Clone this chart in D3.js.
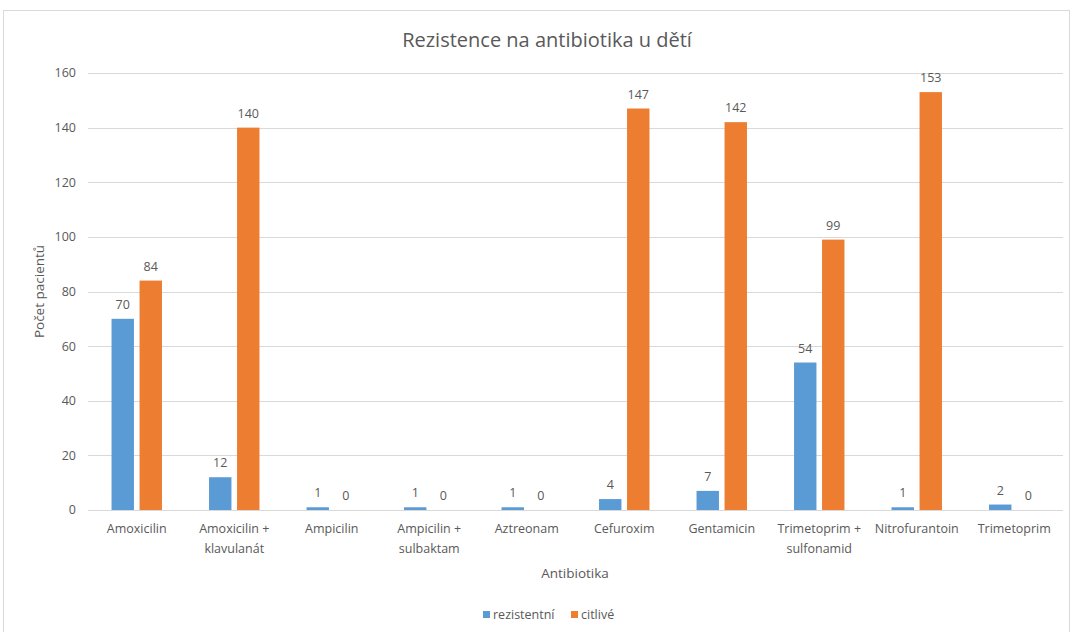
<!DOCTYPE html>
<html>
<head>
<meta charset="utf-8">
<script src="https://cdn.jsdelivr.net/npm/d3@7"></script>
<style>
body { margin: 0; background: #fff; }
svg text { font-family: "Open Sans", "Noto Sans", sans-serif; fill: #595959; }
</style>
</head>
<body>
<svg></svg>
<script>
var width = 1073,
	height = 632;

var categories = [
	["Amoxicilin"],
	["Amoxicilin +", "klavulanát"],
	["Ampicilin"],
	["Ampicilin +", "sulbaktam"],
	["Aztreonam"],
	["Cefuroxim"],
	["Gentamicin"],
	["Trimetoprim +", "sulfonamid"],
	["Nitrofurantoin"],
	["Trimetoprim"]
];
var rezistentni = [70, 12, 1, 1, 1, 4, 7, 54, 1, 2];
var citlive = [84, 140, 0, 0, 0, 147, 142, 99, 153, 0];
var seriesNames = ["rezistentní", "citlivé"];
var colors = ["#5B9BD5", "#ED7D31"];
var yTicks = [0, 20, 40, 60, 80, 100, 120, 140, 160];

var svg = d3.select("svg")
	.attr("width", width)
	.attr("height", height);

// chart border
svg.append("rect")
	.attr("x", 3.5).attr("y", 10.5)
	.attr("width", 1066).attr("height", 640)
	.attr("fill", "none")
	.attr("stroke", "#D9D9D9");

var plotLeft = 88, plotRight = 1063, plotTop = 73, plotBottom = 510;

var x = d3.scaleBand()
	.domain(d3.range(categories.length))
	.range([plotLeft, plotRight]);

var y = d3.scaleLinear()
	.domain([0, 160])
	.range([plotBottom, plotTop]);

var series = d3.scaleBand()
	.domain([0, 1])
	.range([0, x.bandwidth()])
	.paddingInner(0.2)
	.paddingOuter(0.84);

// gridlines
svg.append("g")
	.selectAll("line")
	.data(yTicks)
	.enter()
	.append("line")
	.attr("x1", plotLeft).attr("x2", plotRight)
	.attr("y1", function(d) { return Math.round(y(d)) + 0.5; })
	.attr("y2", function(d) { return Math.round(y(d)) + 0.5; })
	.attr("stroke", "#D9D9D9");

// y tick labels
svg.append("g")
	.selectAll("text")
	.data(yTicks)
	.enter()
	.append("text")
	.attr("x", 76)
	.attr("y", function(d) { return y(d); })
	.attr("dy", "0.35em")
	.attr("text-anchor", "end")
	.style("font-size", "12.5px")
	.text(function(d) { return d; });

var data = [];
categories.forEach(function(c, i) {
	data.push({i: i, s: 0, v: rezistentni[i]});
	data.push({i: i, s: 1, v: citlive[i]});
});

svg.append("g")
	.selectAll("rect")
	.data(data)
	.enter()
	.append("rect")
	.attr("x", function(d) { return x(d.i) + series(d.s); })
	.attr("y", function(d) { return y(d.v); })
	.attr("width", series.bandwidth())
	.attr("height", function(d) { return y(0) - y(d.v); })
	.attr("fill", function(d) { return colors[d.s]; });

// value labels
svg.append("g")
	.selectAll("text")
	.data(data)
	.enter()
	.append("text")
	.attr("x", function(d) { return x(d.i) + series(d.s) + series.bandwidth() / 2; })
	.attr("y", function(d) { return y(d.v) - 10; })
	.attr("text-anchor", "middle")
	.style("font-size", "12.5px")
	.text(function(d) { return d.v; });

// category labels
var cat = svg.append("g")
	.selectAll("text")
	.data(categories)
	.enter()
	.append("text")
	.attr("x", function(d, i) { return x(i) + x.bandwidth() / 2; })
	.attr("y", 533)
	.attr("text-anchor", "middle")
	.style("font-size", "12.5px");
cat.selectAll("tspan")
	.data(function(d) { return d; })
	.enter()
	.append("tspan")
	.attr("x", function() { return this.parentNode.getAttribute("x"); })
	.attr("dy", function(d, j) { return j === 0 ? 0 : 20; })
	.text(function(d) { return d; });

// titles
svg.append("text")
	.attr("x", 547).attr("y", 47)
	.attr("text-anchor", "middle")
	.style("font-size", "20px")
	.text("Rezistence na antibiotika u dětí");

svg.append("text")
	.attr("x", 575).attr("y", 578)
	.attr("text-anchor", "middle")
	.style("font-size", "13.5px")
	.text("Antibiotika");

svg.append("text")
	.attr("transform", "translate(44," + ((plotTop + plotBottom) / 2) + ") rotate(-90)")
	.attr("text-anchor", "middle")
	.style("font-size", "13.5px")
	.text("Počet pacientů");

// legend
var legend = svg.append("g");
var legendX = [483, 571];
seriesNames.forEach(function(n, i) {
	legend.append("rect")
		.attr("x", legendX[i]).attr("y", 611)
		.attr("width", 7).attr("height", 7)
		.attr("fill", colors[i]);
	legend.append("text")
		.attr("x", legendX[i] + 10).attr("y", 619)
		.style("font-size", "12.5px")
		.text(n);
});
</script>
</body>
</html>
